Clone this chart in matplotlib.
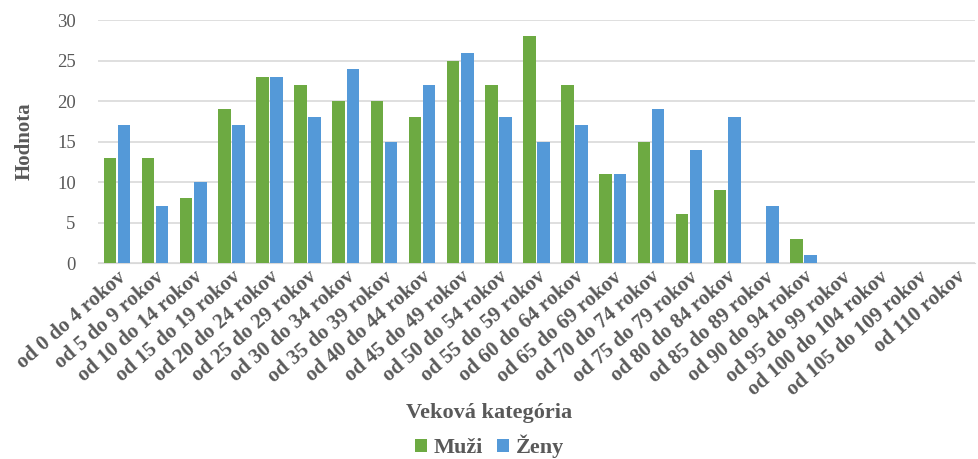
import numpy as np
import matplotlib.pyplot as plt

categories = ["od 0 do 4 rokov", "od 5 do 9 rokov", "od 10 do 14 rokov", "od 15 do 19 rokov",
              "od 20 do 24 rokov", "od 25 do 29 rokov", "od 30 do 34 rokov", "od 35 do 39 rokov",
              "od 40 do 44 rokov", "od 45 do 49 rokov", "od 50 do 54 rokov", "od 55 do 59 rokov",
              "od 60 do 64 rokov", "od 65 do 69 rokov", "od 70 do 74 rokov", "od 75 do 79 rokov",
              "od 80 do 84 rokov", "od 85 do 89 rokov", "od 90 do 94 rokov", "od 95 do 99 rokov",
              "od 100 do 104 rokov", "od 105 do 109 rokov", "od 110 rokov"]
muzi = [13, 13, 8, 19, 23, 22, 20, 20, 18, 25, 22, 28, 22, 11, 15, 6, 9, 0, 3, 0, 0, 0, 0]
zeny = [17, 7, 10, 17, 23, 18, 24, 15, 22, 26, 18, 15, 17, 11, 19, 14, 18, 7, 1, 0, 0, 0, 0]

plt.rcParams['font.family'] = ['Liberation Serif', 'DejaVu Serif']
gray = '#595959'

fig = plt.figure(figsize=(9.79, 4.59), dpi=100)
ax = fig.add_axes([0.100, 0.427, 0.896, 0.529])

x = np.arange(len(categories))
w = 0.33
ax.bar(x - 0.185, muzi, w, color='#6DAA42', label='Muži', zorder=3)
ax.bar(x + 0.185, zeny, w, color='#5499D8', label='Ženy', zorder=3)

ax.set_xlim(-0.5, len(categories) - 0.5)
ax.set_ylim(0, 30)
ax.set_yticks(range(0, 31, 5))
ax.yaxis.grid(True, color='#D9D9D9', linewidth=1.2, zorder=0)
ax.set_axisbelow(True)
for s in ['top', 'right', 'left']:
    ax.spines[s].set_visible(False)
ax.spines['bottom'].set_color('#D9D9D9')
ax.tick_params(axis='both', length=0)
ax.tick_params(axis='y', labelsize=13.5, labelcolor=gray, pad=16)

ax.set_xticks(x)
ax.set_xticklabels(categories, rotation=41, ha='right', rotation_mode='anchor',
                   fontsize=15, fontweight='bold', color=gray)
ax.tick_params(axis='x', pad=3)

ax.set_ylabel('Hodnota', fontsize=15, fontweight='bold', color=gray, labelpad=16)
fig.text(0.5, 0.100, 'Veková kategória', ha='center', va='center',
         fontsize=16, fontweight='bold', color=gray)

fig.legend(loc='center', bbox_to_anchor=(0.5, 0.027), ncol=2, frameon=False,
           prop={'size': 16, 'weight': 'bold'}, labelcolor=gray,
           handlelength=0.55, handleheight=0.55, handletextpad=0.3, columnspacing=0.6)

fig.savefig('out.png', dpi=100)
